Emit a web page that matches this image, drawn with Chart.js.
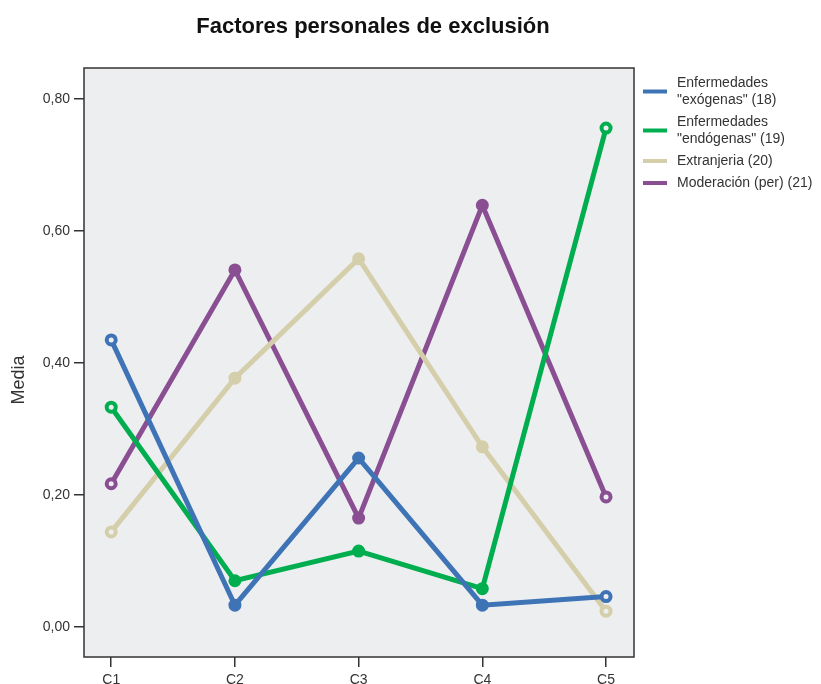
<!DOCTYPE html>
<html>
<head>
<meta charset="utf-8">
<script src="https://cdn.jsdelivr.net/npm/chart.js@4.4.1/dist/chart.umd.min.js"></script>
<style>
  html, body { margin: 0; padding: 0; background: #fff; overflow: hidden; }
  #wrap { width: 821px; height: 684px; overflow: hidden; }
</style>
</head>
<body>
<div id="wrap"><canvas id="chart" width="821" height="700"></canvas></div>
<script>
const categories = ['C1', 'C2', 'C3', 'C4', 'C5'];
const yTicks = [0, 0.2, 0.4, 0.6, 0.8];

const exogenas = [0.435, 0.033, 0.256, 0.033, 0.046];
const endogenas = [0.333, 0.070, 0.115, 0.058, 0.756];
const extranjeria = [0.144, 0.377, 0.558, 0.273, 0.024];
const moderacion = [0.217, 0.541, 0.165, 0.639, 0.197];

const seriesNames = [
  ['Enfermedades', '"exógenas" (18)'],
  ['Enfermedades', '"endógenas" (19)'],
  ['Extranjeria (20)'],
  ['Moderación (per) (21)']
];
const seriesValues = [exogenas, endogenas, extranjeria, moderacion];
const seriesColors = ['#3e73b6', '#00ae50', '#d4cfaa', '#8a4f92'];

const TITLE = 'Factores personales de exclusión';
const Y_TITLE = 'Media';
const PLOT_BG = '#eceef0';
const INK = '#333333';
const FONT = '"Liberation Sans", Arial, sans-serif';

function toPoints(values) {
  return values.map((v, i) => ({ x: i + 1, y: v }));
}

// hollow markers at both ends, filled in between
function markerFill(color, count) {
  return Array.from({ length: count }, (_, i) => (i === 0 || i === count - 1 ? PLOT_BG : color));
}

const framePlugin = {
  id: 'spssFrame',
  beforeDatasetsDraw(chart) {
    const { ctx, chartArea: a } = chart;
    ctx.save();
    ctx.fillStyle = PLOT_BG;
    ctx.fillRect(a.left, a.top, a.right - a.left, a.bottom - a.top);
    ctx.restore();
  },
  afterDraw(chart) {
    const { ctx, chartArea: a } = chart;
    ctx.save();
    ctx.strokeStyle = INK;
    ctx.lineWidth = 1.5;
    ctx.strokeRect(a.left, a.top, a.right - a.left, a.bottom - a.top);

    // title
    ctx.fillStyle = '#111';
    ctx.font = `bold 22px ${FONT}`;
    ctx.textAlign = 'center';
    ctx.textBaseline = 'middle';
    ctx.fillText(TITLE, 373, 27);

    // y axis title
    ctx.save();
    ctx.translate(19, 380);
    ctx.rotate(-Math.PI / 2);
    ctx.fillStyle = INK;
    ctx.font = `18px ${FONT}`;
    ctx.fillText(Y_TITLE, 0, 0);
    ctx.restore();

    // legend
    ctx.font = `14px ${FONT}`;
    ctx.textAlign = 'left';
    let y = 83;
    seriesNames.forEach((lines, i) => {
      const swatchY = y + (lines.length - 1) * 17 / 2;
      ctx.strokeStyle = seriesColors[i];
      ctx.lineWidth = 4;
      ctx.beginPath();
      ctx.moveTo(a.right + 9, swatchY);
      ctx.lineTo(a.right + 33, swatchY);
      ctx.stroke();
      ctx.fillStyle = INK;
      lines.forEach((line, k) => ctx.fillText(line, a.right + 43, y + k * 17));
      y += lines.length * 17 + 5;
    });
    ctx.restore();
  }
};

new Chart(document.getElementById('chart'), {
  type: 'line',
  data: {
    datasets: seriesValues.map((values, i) => ({
      label: seriesNames[i].join(' '),
      data: toPoints(values),
      borderColor: seriesColors[i],
      backgroundColor: seriesColors[i],
      borderWidth: 5,
      pointRadius: 4.5,
      pointHoverRadius: 4.5,
      pointBorderWidth: 4,
      pointBorderColor: seriesColors[i],
      pointBackgroundColor: markerFill(seriesColors[i], values.length),
      tension: 0,
      fill: false
    }))
  },
  options: {
    responsive: false,
    animation: false,
    layout: { padding: { top: 68, right: 187, left: 0, bottom: 0 } },
    plugins: {
      legend: { display: false },
      title: { display: false },
      tooltip: { enabled: false }
    },
    scales: {
      x: {
        type: 'linear',
        min: 0.78,
        max: 5.226,
        afterBuildTicks: (scale) => { scale.ticks = categories.map((_, i) => ({ value: i + 1 })); },
        afterFit: (scale) => { scale.height = 43; },
        ticks: {
          callback: (value) => categories[value - 1],
          color: INK,
          font: { family: FONT, size: 14 },
          padding: 5,
          maxRotation: 0
        },
        grid: { drawOnChartArea: false, drawTicks: true, tickLength: 10, color: INK, lineWidth: 1.5 },
        border: { display: false }
      },
      y: {
        min: -0.0455,
        max: 0.847,
        afterBuildTicks: (scale) => { scale.ticks = yTicks.map((value) => ({ value })); },
        afterFit: (scale) => { scale.width = 84; },
        ticks: {
          callback: (value) => value.toFixed(2).replace('.', ','),
          color: INK,
          font: { family: FONT, size: 14 },
          padding: 4
        },
        grid: { drawOnChartArea: false, drawTicks: true, tickLength: 10, color: INK, lineWidth: 1.5 },
        border: { display: false }
      }
    }
  },
  plugins: [framePlugin]
});
</script>
</body>
</html>
